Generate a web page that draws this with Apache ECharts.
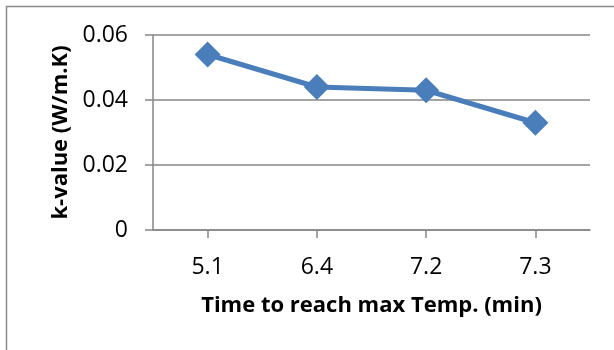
<!DOCTYPE html>
<html>
<head>
<meta charset="utf-8">
<script src="https://cdn.jsdelivr.net/npm/echarts@6/dist/echarts.min.js"></script>
<style>html,body{margin:0;padding:0;background:#fff;}#c{width:614px;height:350px;}</style>
</head>
<body>
<div id="c"></div>
<script>
const categories = ['5.1', '6.4', '7.2', '7.3'];
const kValues = [0.054, 0.044, 0.043, 0.033];
const yTicks = { min: 0, max: 0.06, interval: 0.02 };
const xTitle = 'Time to reach max Temp. (min)';
const yTitle = 'k-value (W/m.K)';

const chart = echarts.init(document.getElementById('c'), null, { renderer: 'canvas' });
const FONT = 'Open Sans';
chart.setOption({
  animation: false,
  backgroundColor: '#fff',
  graphic: [{
    type: 'rect', shape: { x: 6.5, y: 6.5, width: 700, height: 400 },
    style: { fill: 'none', stroke: '#8c8c8c', lineWidth: 1.5 }, silent: true
  }],
  grid: { left: 153, right: 24, top: 35, bottom: 120 },
  xAxis: {
    type: 'category', data: categories, boundaryGap: true,
    axisLine: { show: true, lineStyle: { color: '#868686', width: 1.5 } },
    axisTick: { show: true, alignWithLabel: true, length: 8, lineStyle: { color: '#868686', width: 1.5 } },
    axisLabel: { margin: 26, fontFamily: FONT, fontSize: 23, color: '#000' },
    name: xTitle, nameLocation: 'middle', nameGap: 65,
    nameTextStyle: { fontFamily: FONT, fontSize: 22, fontWeight: 'bold', color: '#000' }
  },
  yAxis: {
    type: 'value', min: yTicks.min, max: yTicks.max, interval: yTicks.interval,
    axisLine: { show: true, lineStyle: { color: '#868686', width: 1.5 } },
    axisTick: { show: true, length: 8, lineStyle: { color: '#868686', width: 1.5 } },
    splitLine: { show: true, lineStyle: { color: '#868686', width: 1.5 } },
    axisLabel: { margin: 25, fontFamily: FONT, fontSize: 23, color: '#000',
      formatter: v => v === 0 ? '0' : v.toFixed(2) },
    name: yTitle, nameLocation: 'middle', nameGap: 72, nameRotate: 90,
    nameTextStyle: { fontFamily: FONT, fontSize: 22, fontWeight: 'bold', color: '#000' }
  },
  series: [{
    type: 'line', data: kValues,
    symbol: 'diamond', symbolSize: [26, 26], showSymbol: true,
    lineStyle: { color: '#4A7EBB', width: 5 },
    itemStyle: { color: '#4A7EBB' }
  }]
});
</script>
</body>
</html>
